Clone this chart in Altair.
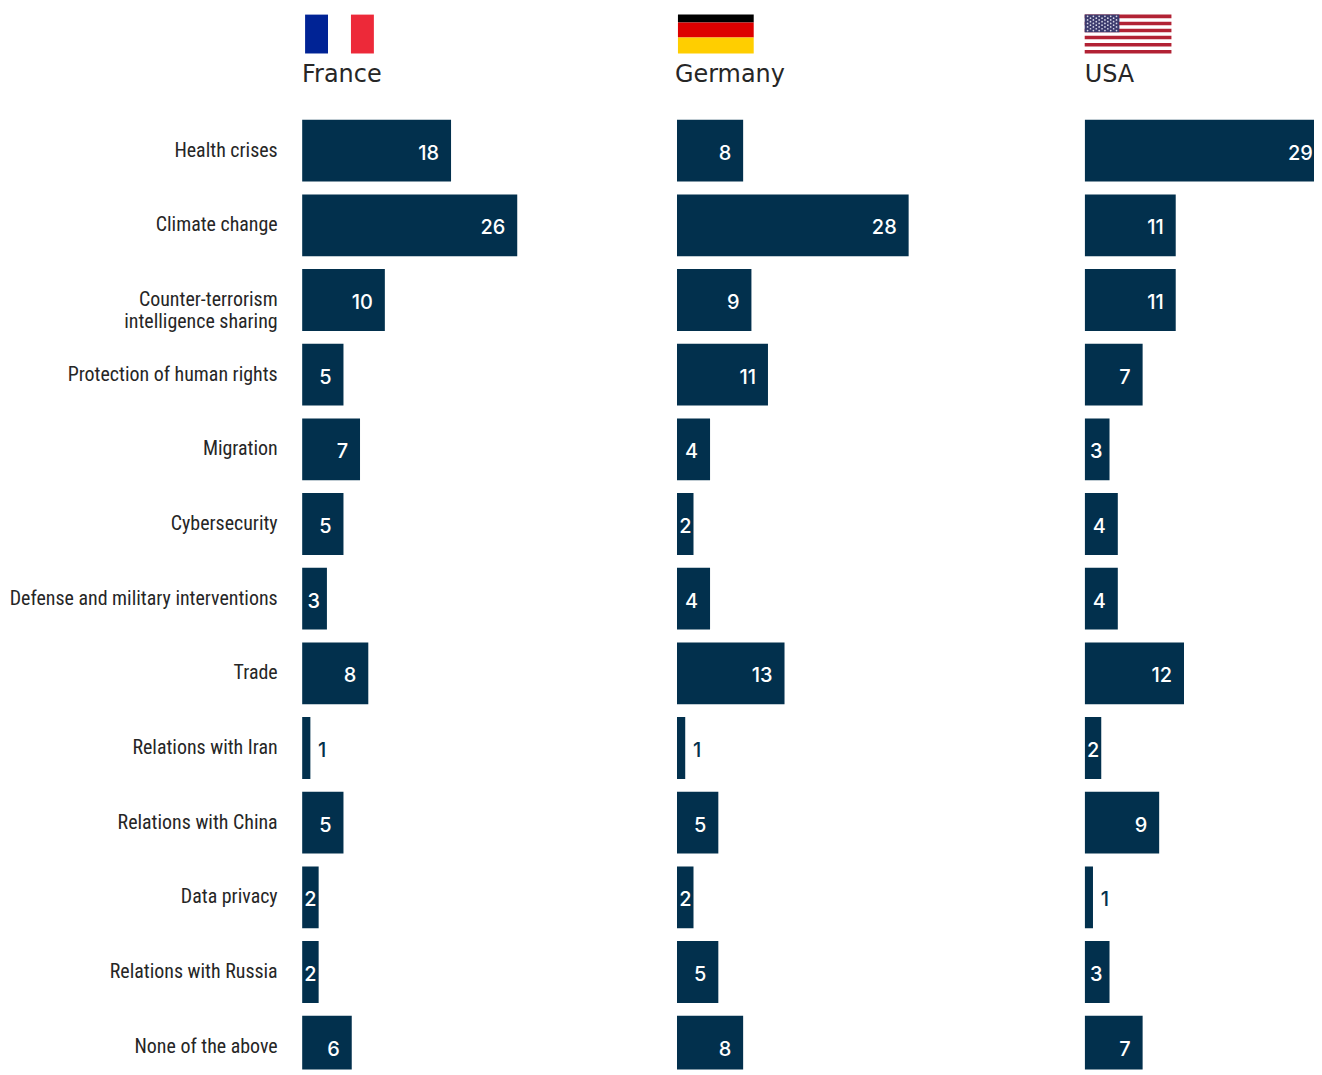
import altair as alt
import pandas as pd

topics = ["Health crises", "Climate change", "Counter-terrorism|intelligence sharing",
          "Protection of human rights", "Migration", "Cybersecurity",
          "Defense and military interventions", "Trade", "Relations with Iran",
          "Relations with China", "Data privacy", "Relations with Russia", "None of the above"]
france = [18, 26, 10, 5, 7, 5, 3, 8, 1, 5, 2, 2, 6]
germany = [8, 28, 9, 11, 4, 2, 4, 13, 1, 5, 2, 5, 8]
usa = [29, 11, 11, 7, 3, 4, 4, 12, 2, 9, 1, 3, 7]

NAVY = "#02304d"
PX_PER_UNIT = 8.3
Y_RANGE = [104.0, 1077.7]
LABEL_FONT = "Roboto Condensed"
VALUE_FONT = "Inter"
HEAD_FONT = "DejaVu Sans"

france_flag = [dict(x=0, x2=1, y=0, y2=1, c="#002395"), dict(x=2, x2=3, y=0, y2=1, c="#ED2939")]
germany_flag = [dict(x=0, x2=1, y=0, y2=8, c="#000000"),
                dict(x=0, x2=1, y=8, y2=23, c="#DD0000"),
                dict(x=0, x2=1, y=23, y2=39, c="#FFCE00")]
usa_flag = [dict(x=0, x2=5, y=i * 2, y2=i * 2 + 1, c="#B22234") for i in range(6)]
usa_flag.append(dict(x=0, x2=2, y=0, y2=5, c="#3C3B6E"))


def panel(name, values, flag, width, flag_x_range, flag_x_dom, flag_y_dom, stars=False, axis=False):
    df = pd.DataFrame({"topic": topics, "value": values})
    df["pos"] = df["value"].map(lambda v: v + 16 / PX_PER_UNIT if v == 1 else
                                v - (2 if v == 2 else 7 if v == 3 else 12) / PX_PER_UNIT)
    yscale = alt.Scale(domain=topics, range=Y_RANGE, paddingInner=0.172, paddingOuter=0.086)
    xscale = alt.Scale(domain=[0, width / PX_PER_UNIT], nice=False, zero=True)
    yaxis = (alt.Axis(title=None, domain=False, ticks=False, labelPadding=25, labelFont=LABEL_FONT,
                      labelFontSize=20, labelColor="#262626", labelLimit=400, labelLineHeight=22,
                      minExtent=293, maxExtent=293, grid=False,
                      labelExpr="split(datum.label, '|')") if axis else None)
    base = alt.Chart(df)
    bars = base.mark_bar(color=NAVY, clip=True).encode(
        x=alt.X("value:Q", scale=xscale, axis=None),
        y=alt.Y("topic:N", scale=yscale, sort=topics, axis=yaxis),
    )
    text = base.mark_text(font=VALUE_FONT, fontSize=20, fontWeight=500, align="right",
                          baseline="middle", dy=3).encode(
        x=alt.X("pos:Q", scale=xscale, axis=None),
        y=alt.Y("topic:N", scale=yscale, sort=topics, axis=yaxis),
        text="value:Q",
        color=alt.condition("datum.value == 1", alt.value(NAVY), alt.value("white")),
    )
    fx = alt.Scale(domain=flag_x_dom, range=flag_x_range, nice=False, zero=False)
    fy = alt.Scale(domain=flag_y_dom, range=[5, 44], nice=False, zero=False)
    flag_layer = alt.Chart(alt.Data(values=flag)).mark_rect().encode(
        x=alt.X("x:Q", scale=fx, axis=None), x2="x2:Q",
        y=alt.Y("y:Q", scale=fy, axis=None), y2="y2:Q",
        color=alt.Color("c:N", scale=None),
    )
    flag_chart = flag_layer
    if stars:
        pts = []
        for row in range(9):
            n = 6 if row % 2 == 0 else 5
            for k in range(n):
                pts.append(dict(x=(k + (0.5 if row % 2 == 0 else 1.0)) * 2 / 6, y=(row + 1) * 0.5))
        flag_chart = flag_layer + alt.Chart(alt.Data(values=pts)).mark_point(
            filled=True, color="#d8d8e8", size=3, opacity=1).encode(
            x=alt.X("x:Q", scale=fx, axis=None), y=alt.Y("y:Q", scale=fy, axis=None))
    head = alt.Chart(alt.Data(values=[{"name": name}])).mark_text(
        font=HEAD_FONT, fontSize=24, align="left", baseline="alphabetic", color="#262626"
    ).encode(x=alt.value(-2 if name == "Germany" else 0), y=alt.value(73), text="name:N")
    bars_layer = alt.layer(bars, text)
    return (alt.layer(bars_layer, flag_chart, head)
            .resolve_scale(x="independent", y="independent", color="independent")
            .properties(width=width, height=1063))


chart = alt.hconcat(
    panel("France", france, france_flag, 374, [3, 72], [0, 3], [0, 1], axis=True),
    panel("Germany", germany, germany_flag, 409, [1, 77], [0, 1], [0, 39]),
    panel("USA", usa, usa_flag, 230, [0, 87], [0, 5], [0, 11], stars=True),
    spacing=0,
).properties(padding=0).configure_view(stroke=None)

chart.save("out.html", embed_options={"renderer": "svg", "actions": False})
